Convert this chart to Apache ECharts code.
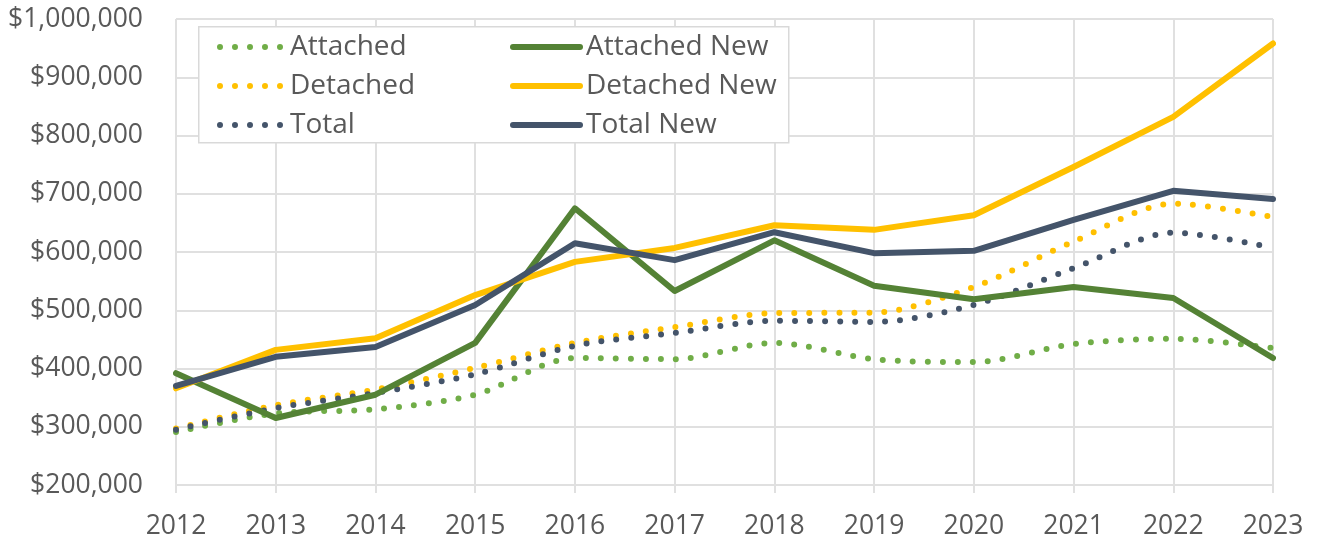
<!DOCTYPE html>
<html>
<head>
<meta charset="utf-8">
<script src="https://cdn.jsdelivr.net/npm/echarts@6/dist/echarts.min.js"></script>
<style>
  html, body { margin: 0; padding: 0; background: #ffffff; }
  #chart { width: 1317px; height: 546px; }
</style>
</head>
<body>
<div id="chart"></div>
<script>
// Median sale prices by year, resale (dotted) vs new construction (solid)
const years = ['2012', '2013', '2014', '2015', '2016', '2017', '2018', '2019', '2020', '2021', '2022', '2023'];
const attached      = [291000, 323000, 330000, 355000, 418000, 416000, 444000, 416000, 411000, 442000, 451000, 435000];
const detached      = [297000, 337000, 364000, 401000, 444000, 471000, 495000, 496000, 540000, 618000, 683000, 660000];
const total         = [295000, 332000, 358000, 390000, 439000, 461000, 482000, 480000, 509000, 572000, 633000, 607000];
const attachedNew   = [392000, 315000, 355000, 444000, 675000, 533000, 620000, 542000, 519000, 540000, 521000, 418000];
const detachedNew   = [366000, 432000, 452000, 526000, 583000, 607000, 646000, 638000, 663000, 746000, 832000, 958000];
const totalNew      = [370000, 420000, 437000, 509000, 615000, 586000, 634000, 598000, 602000, 655000, 705000, 691000];
const yTicks = { min: 200000, max: 1000000, step: 100000 };

const GREEN_LIGHT = '#70AD47';
const GREEN_DARK = '#548235';
const GOLD = '#FFC000';
const NAVY = '#44546A';
const FONT = '"Open Sans", "Noto Sans", sans-serif';
const TEXT = '#595959';
const GRID = '#e0e0e0';

function dotted(name, data, color) {
  return {
    name, type: 'line', data, smooth: 0.3, symbol: 'none',
    lineStyle: { color, width: 6, type: [0, 15], cap: 'round' },
    itemStyle: { color }
  };
}
function solid(name, data, color) {
  return {
    name, type: 'line', data, smooth: false, symbol: 'none',
    lineStyle: { color, width: 6, cap: 'round', join: 'round' },
    itemStyle: { color }
  };
}

function legendText(padLeft) {
  return { fontFamily: FONT, fontSize: 28, lineHeight: 27, color: TEXT, padding: [0, 0, 0, padLeft] };
}
const chart = echarts.init(document.getElementById('chart'), null, { renderer: 'canvas' });
chart.setOption({
  animation: false,
  backgroundColor: '#ffffff',
  grid: { left: 176, right: 44, top: 19, bottom: 61, containLabel: false },
  xAxis: {
    type: 'category', data: years, boundaryGap: false,
    axisLine: { lineStyle: { color: GRID, width: 2 } },
    axisTick: { show: true, length: 8, lineStyle: { color: GRID, width: 2 } },
    axisLabel: { fontFamily: FONT, fontSize: 26.5, color: TEXT, margin: 28 },
    splitLine: { show: true, lineStyle: { color: GRID, width: 2 } }
  },
  yAxis: {
    type: 'value', min: yTicks.min, max: yTicks.max, interval: yTicks.step,
    axisLine: { show: false }, axisTick: { show: false },
    axisLabel: {
      fontFamily: FONT, fontSize: 26.5, color: TEXT, margin: 33,
      formatter: v => '$' + v.toLocaleString('en-US')
    },
    splitLine: { lineStyle: { color: GRID, width: 2 } }
  },
  graphic: [{
    type: 'rect', left: 198, top: 26, z: 10,
    shape: { width: 590, height: 116 },
    style: { fill: '#ffffff', stroke: '#d9d9d9', lineWidth: 1.5 }
  }],
  legend: [
    {
      orient: 'vertical', left: 212, top: 28, z: 20, itemGap: 11,
      itemWidth: 61, itemHeight: 14, textStyle: legendText(4),
      itemStyle: { opacity: 0 }, lineStyle: { width: 6 },
      data: ['Attached', 'Detached', 'Total']
    },
    {
      orient: 'vertical', left: 505, top: 28, z: 20, itemGap: 11,
      itemWidth: 67, itemHeight: 14, textStyle: legendText(1),
      itemStyle: { opacity: 0 }, lineStyle: { width: 6 },
      data: ['Attached New', 'Detached New', 'Total New']
    }
  ],
  series: [
    dotted('Attached', attached, GREEN_LIGHT),
    dotted('Detached', detached, GOLD),
    dotted('Total', total, NAVY),
    solid('Attached New', attachedNew, GREEN_DARK),
    solid('Detached New', detachedNew, GOLD),
    solid('Total New', totalNew, NAVY)
  ]
});
</script>
</body>
</html>
